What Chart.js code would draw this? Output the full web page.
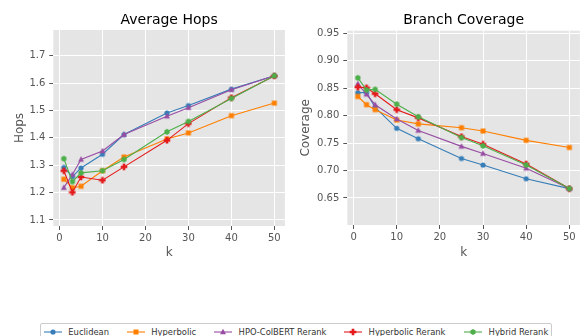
<!DOCTYPE html>
<html>
<head>
<meta charset="utf-8">
<script src="https://cdn.jsdelivr.net/npm/chart.js@4.4.1/dist/chart.umd.min.js"></script>
<style>
  body { margin: 0; width: 585px; height: 336px; overflow: hidden; background: #fff; font-family: "DejaVu Sans", sans-serif; }
  #hopsBox { position: absolute; left: 0; top: 0; width: 290px; height: 265px; }
  #covBox { position: absolute; left: 290px; top: 0; width: 295px; height: 265px; }
  #legend { position: absolute; left: 40px; top: 323px; width: 510px; height: 22px; border: 1px solid #ccc; border-radius: 2px; background: #fff; }
  .item { position: absolute; top: 2px; height: 12px; display: flex; align-items: center; font-size: 8.4px; color: #333; white-space: nowrap; }
  .item canvas { margin-right: 6.6px; }
</style>
</head>
<body>
<div id="hopsBox"><canvas id="hopsChart"></canvas></div>
<div id="covBox"><canvas id="covChart"></canvas></div>
<div id="legend"></div>
<script>
const kValues = [1, 3, 5, 10, 15, 25, 30, 40, 50];
const seriesNames = ['Euclidean', 'Hyperbolic', 'HPO-ColBERT Rerank', 'Hyperbolic Rerank', 'Hybrid Rerank'];

const euclidHops = [1.292, 1.258, 1.290, 1.340, 1.412, 1.491, 1.518, 1.578, 1.627];
const hyperHops = [1.249, 1.218, 1.223, 1.280, 1.330, 1.396, 1.418, 1.481, 1.527];
const hpoHops = [1.218, 1.266, 1.321, 1.352, 1.412, 1.479, 1.510, 1.576, 1.627];
const hypRerankHops = [1.280, 1.201, 1.257, 1.245, 1.294, 1.391, 1.452, 1.547, 1.626];
const hybridHops = [1.324, 1.240, 1.272, 1.280, 1.321, 1.422, 1.460, 1.544, 1.627];

const euclidCov = [0.842, 0.842, 0.815, 0.777, 0.758, 0.722, 0.710, 0.685, 0.667];
const hyperCov = [0.835, 0.820, 0.811, 0.792, 0.785, 0.778, 0.772, 0.755, 0.742];
const hpoCov = [0.858, 0.839, 0.820, 0.794, 0.773, 0.744, 0.731, 0.704, 0.667];
const hypRerankCov = [0.852, 0.851, 0.840, 0.811, 0.796, 0.762, 0.748, 0.712, 0.667];
const hybridCov = [0.869, 0.847, 0.848, 0.821, 0.798, 0.760, 0.745, 0.710, 0.667];

const xTicks = [0, 10, 20, 30, 40, 50];
const hopsTicks = [1.1, 1.2, 1.3, 1.4, 1.5, 1.6, 1.7];
const covTicks = [0.65, 0.70, 0.75, 0.80, 0.85, 0.90, 0.95];

const colors = ['#377eb8', '#ff7f00', '#984ea3', '#e41a1c', '#4daf4a'];
const shapes = ['circle', 'square', 'triangle', 'plus', 'hexagon'];

function drawShape(ctx, shape, cx, cy, color) {
  ctx.fillStyle = color;
  ctx.beginPath();
  if (shape === 'circle') {
    ctx.arc(cx, cy, 2.6, 0, Math.PI * 2);
  } else if (shape === 'square') {
    ctx.rect(cx - 2.5, cy - 2.5, 5, 5);
  } else if (shape === 'triangle') {
    ctx.moveTo(cx, cy - 3.2);
    ctx.lineTo(cx + 3, cy + 2.2);
    ctx.lineTo(cx - 3, cy + 2.2);
    ctx.closePath();
  } else if (shape === 'plus') {
    const a = 1.3, b = 3.3;
    ctx.moveTo(cx - a, cy - b); ctx.lineTo(cx + a, cy - b); ctx.lineTo(cx + a, cy - a);
    ctx.lineTo(cx + b, cy - a); ctx.lineTo(cx + b, cy + a); ctx.lineTo(cx + a, cy + a);
    ctx.lineTo(cx + a, cy + b); ctx.lineTo(cx - a, cy + b); ctx.lineTo(cx - a, cy + a);
    ctx.lineTo(cx - b, cy + a); ctx.lineTo(cx - b, cy - a); ctx.lineTo(cx - a, cy - a);
    ctx.closePath();
  } else {
    for (let i = 0; i < 6; i++) {
      const ang = Math.PI / 6 + i * Math.PI / 3;
      const px = cx + 3 * Math.cos(ang), py = cy + 3 * Math.sin(ang);
      if (i === 0) ctx.moveTo(px, py); else ctx.lineTo(px, py);
    }
    ctx.closePath();
  }
  ctx.fill();
}

function makeMarker(i) {
  const c = document.createElement('canvas');
  c.width = 8; c.height = 8;
  drawShape(c.getContext('2d'), shapes[i], 4, 4, colors[i]);
  return c;
}

const markers = shapes.map((s, i) => makeMarker(i));

const bgPlugin = {
  id: 'plotBg',
  beforeDraw(chart) {
    const { ctx, chartArea: a } = chart;
    ctx.save();
    ctx.fillStyle = '#e5e5e5';
    ctx.fillRect(a.left, a.top, a.right - a.left, a.bottom - a.top);
    ctx.restore();
  },
};

function makeDatasets(lists) {
  return lists.map((vals, i) => ({
    label: seriesNames[i],
    data: kValues.map((k, j) => ({ x: k, y: vals[j] })),
    borderColor: colors[i],
    backgroundColor: colors[i],
    borderWidth: 1.1,
    pointStyle: markers[i],
    pointRadius: 3,
    order: lists.length - i,
    tension: 0,
  }));
}

function makeChart(id, cfg) {
  return new Chart(document.getElementById(id), {
    type: 'line',
    data: { datasets: makeDatasets(cfg.lists) },
    plugins: [bgPlugin],
    options: {
      responsive: true,
      maintainAspectRatio: false,
      animation: false,
      layout: { padding: { top: 0, right: cfg.padRight, bottom: 0, left: 0 } },
      plugins: {
        legend: { display: false },
        tooltip: { enabled: false },
        title: {
          display: true,
          text: cfg.title,
          fullSize: false,
          color: '#000',
          font: { family: 'DejaVu Sans', size: 14, weight: 'normal' },
          padding: { top: 11.8, bottom: cfg.titleBottom },
        },
      },
      scales: {
        x: {
          type: 'linear',
          min: -1.45,
          max: 52.45,
          afterBuildTicks: (axis) => { axis.ticks = xTicks.map((v) => ({ value: v })); },
          afterFit: (axis) => { axis.height = cfg.xHeight; },
          ticks: { color: '#555', font: { family: 'DejaVu Sans', size: 10 }, padding: 2 },
          grid: { color: '#fff', lineWidth: 1, tickColor: '#555', tickLength: 4 },
          border: { display: false },
          title: { display: true, text: 'k', color: '#555', font: { family: 'DejaVu Sans', size: 12 }, padding: { top: 0, bottom: 5.2 } },
        },
        y: {
          min: cfg.yMin,
          max: cfg.yMax,
          afterBuildTicks: (axis) => { axis.ticks = cfg.yTicks.map((v) => ({ value: v })); },
          afterFit: (axis) => { axis.width = cfg.yWidth; },
          ticks: { color: '#555', font: { family: 'DejaVu Sans', size: 10 }, padding: 4, callback: (v) => v.toFixed(cfg.digits) },
          grid: { color: '#fff', lineWidth: 1, tickColor: '#555', tickLength: 4 },
          border: { display: false },
          title: { display: true, text: cfg.yLabel, color: '#555', font: { family: 'DejaVu Sans', size: 12 }, padding: { top: cfg.yTitlePad, bottom: 0 } },
        },
      },
    },
  });
}

makeChart('hopsChart', {
  lists: [euclidHops, hyperHops, hpoHops, hypRerankHops, hybridHops],
  title: 'Average Hops',
  yLabel: 'Hops',
  yMin: 1.078,
  yMax: 1.794,
  yTicks: hopsTicks,
  digits: 1,
  yWidth: 53.3,
  yTitlePad: 12.8,
  xHeight: 39,
  padRight: 1.7,
  titleBottom: 1.4,
});

makeChart('covChart', {
  lists: [euclidCov, hyperCov, hpoCov, hypRerankCov, hybridCov],
  title: 'Branch Coverage',
  yLabel: 'Coverage',
  yMin: 0.6006,
  yMax: 0.955,
  yTicks: covTicks,
  digits: 2,
  yWidth: 57.3,
  yTitlePad: 8.8,
  xHeight: 40,
  padRight: 5,
  titleBottom: 2.1,
});

// legend
const legend = document.getElementById('legend');
const itemLeft = [2.7, 85.7, 173, 303, 423];
seriesNames.forEach((name, i) => {
  const item = document.createElement('div');
  item.className = 'item';
  item.style.left = itemLeft[i] + 'px';
  const c = document.createElement('canvas');
  c.width = 18; c.height = 10;
  const ctx = c.getContext('2d');
  ctx.strokeStyle = colors[i];
  ctx.lineWidth = 1.1;
  ctx.beginPath(); ctx.moveTo(0, 5); ctx.lineTo(18, 5); ctx.stroke();
  drawShape(ctx, shapes[i], 9, 5, colors[i]);
  item.appendChild(c);
  const span = document.createElement('span');
  span.textContent = name;
  item.appendChild(span);
  legend.appendChild(item);
});
</script>
</body>
</html>
